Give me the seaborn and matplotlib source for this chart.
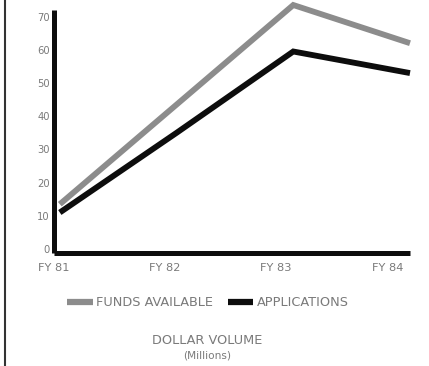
import matplotlib
matplotlib.use("Agg")
import matplotlib.pyplot as plt
import seaborn as sns
import pandas as pd
import numpy as np
from matplotlib.lines import Line2D

# ---- data ----
years = ["FY 81", "FY 82", "FY 83", "FY 84"]
funds_available = [13.5, 43.5, 73.5, 62]
applications = [11, 35, 59.5, 53]
y_ticks = [0, 10, 20, 30, 40, 50, 60, 70]
series_names = ["FUNDS AVAILABLE", "APPLICATIONS"]

df = pd.DataFrame({
    "pos": list(range(len(years))) * 2,
    "value": funds_available + applications,
    "series": [series_names[0]] * len(years) + [series_names[1]] * len(years),
})

sns.set_theme(style="white")
plt.rcParams["font.family"] = ["DejaVu Sans"]

text_color = "#7a7a7a"
gray = "#8c8c8c"
black = "#0d0d0d"

fig = plt.figure(figsize=(4.29, 3.66), dpi=100)
ax = fig.add_axes([54 / 429, (366 - 253) / 366, (410 - 54) / 429, (253 - 10) / 366])

sns.lineplot(data=df, x="pos", y="value", hue="series",
             palette={series_names[0]: gray, series_names[1]: black},
             linewidth=4.2, ax=ax, legend=False, sort=False)
for ln in ax.lines:
    ln.set_clip_on(False)
    ln.set_solid_capstyle("butt")
    ln.set_solid_joinstyle("miter")

ax.set_xlim(0, len(years) - 1)
ax.set_ylim(-1.2, 72)
ax.set_xlabel("")
ax.set_ylabel("")

ax.set_yticks(y_ticks)
ax.set_yticklabels([str(v) for v in y_ticks], fontsize=7.2, color=text_color)
tick_pos = np.arange(len(years)) * 0.952 - 0.05
ax.set_xticks(tick_pos)
ax.set_xticklabels(years, fontsize=8.2, color=text_color)
ax.tick_params(axis="both", length=0)
ax.tick_params(axis="y", pad=3)
ax.tick_params(axis="x", pad=7)

for s in ["top", "right"]:
    ax.spines[s].set_visible(False)
for s in ["left", "bottom"]:
    ax.spines[s].set_linewidth(3.6)
    ax.spines[s].set_color(black)
    ax.spines[s].set_capstyle("butt")
ax.grid(False)

handles = [Line2D([0], [0], color=gray, lw=4.5, solid_capstyle="butt"),
           Line2D([0], [0], color=black, lw=4.5, solid_capstyle="butt")]
leg = fig.legend(handles, series_names, loc="center", bbox_to_anchor=(208 / 429, 1 - 303 / 366),
                 ncol=2, frameon=False, fontsize=9.3, handlelength=2.0, handletextpad=0.25,
                 columnspacing=1.1)
for t in leg.get_texts():
    t.set_color(text_color)

fig.text(207 / 429, 1 - 341 / 366, "DOLLAR VOLUME", ha="center", va="center",
         fontsize=9.3, color=text_color)
fig.text(207 / 429, 1 - 355 / 366, "(Millions)", ha="center", va="center",
         fontsize=7.6, color=text_color)

# scanned frame edge on the left
fig.add_artist(Line2D([5 / 429, 5 / 429], [0, 1], transform=fig.transFigure,
                      color="#333333", lw=1.5))

fig.savefig("out.png", dpi=100)
